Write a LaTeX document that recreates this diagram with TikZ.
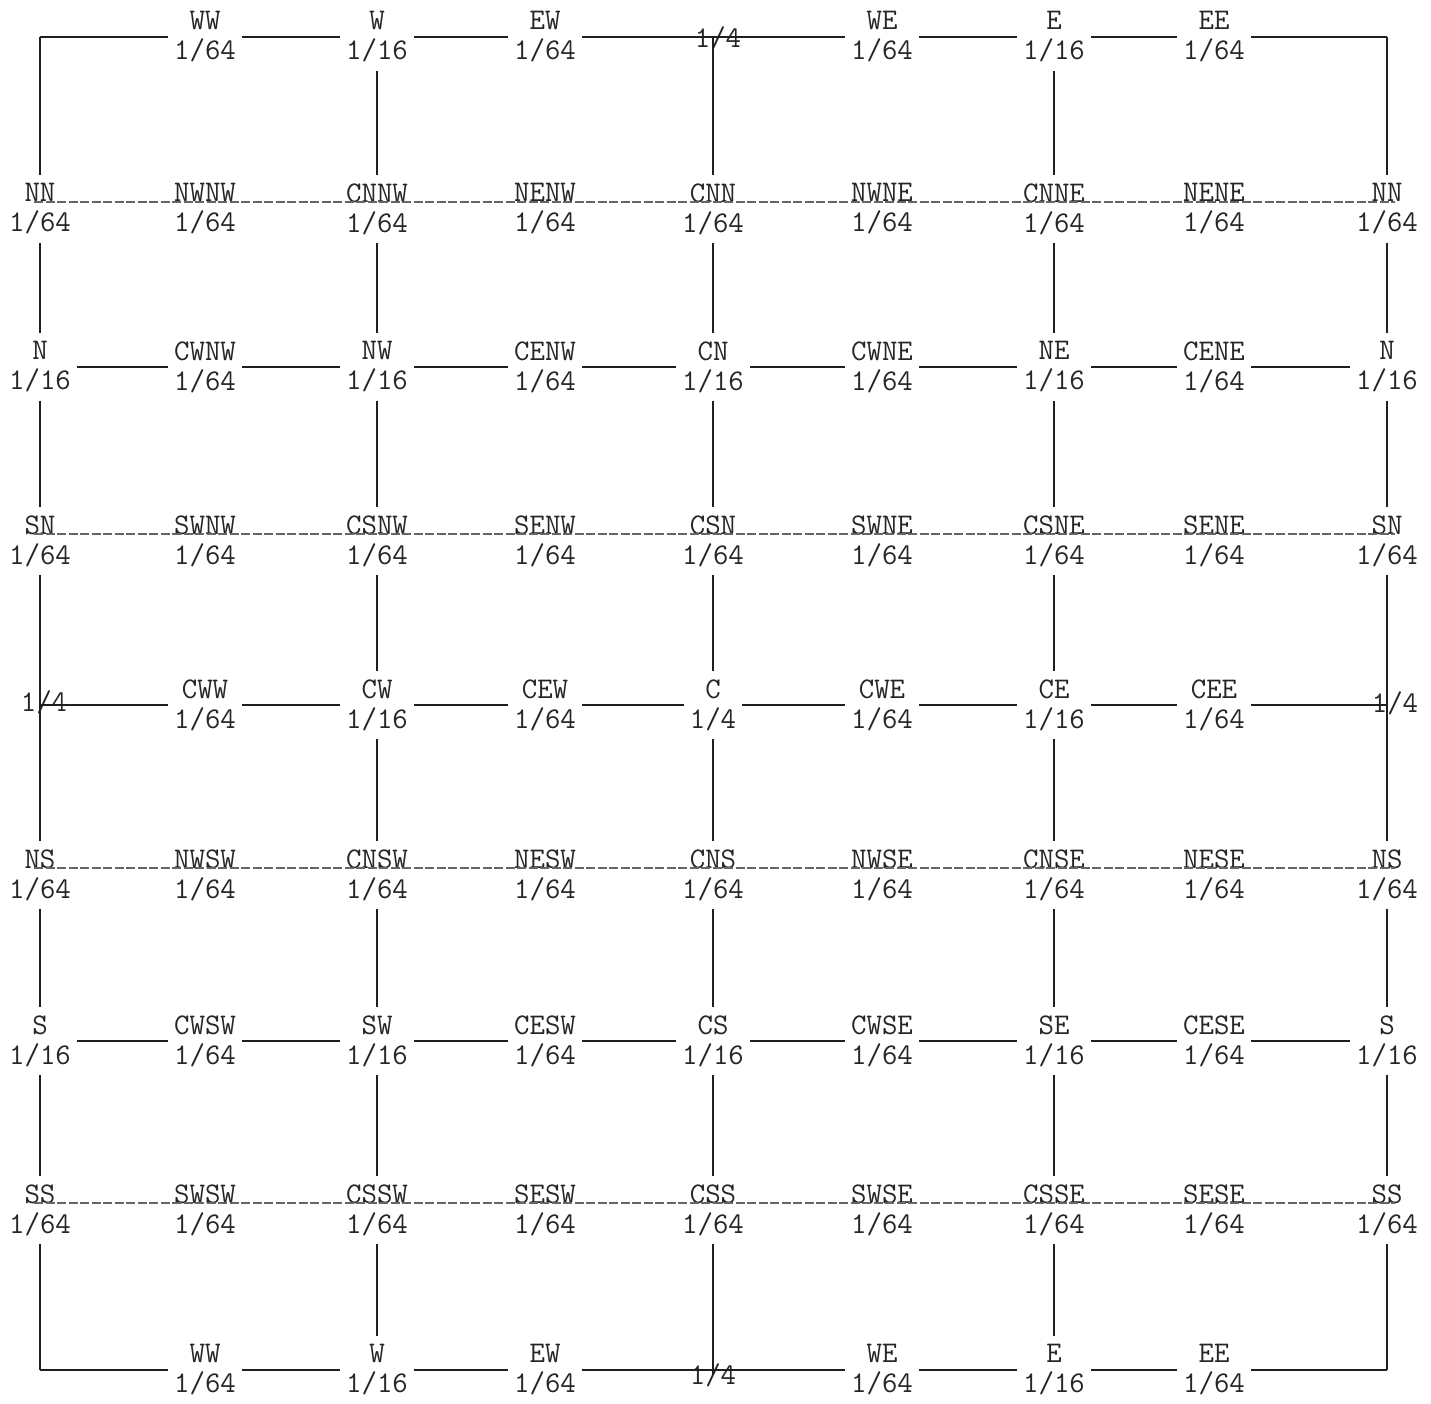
\documentclass[tikz,border=0pt]{standalone}
\usepackage{fontspec}
\usetikzlibrary{calc}
\begin{document}
\begin{tikzpicture}[x=1pt,y=-1pt,
  lab/.style={align=center,font=\fontsize{30}{30}\selectfont\ttfamily\addfontfeatures{FakeBold=1.6},inner xsep=6pt,inner ysep=8pt,text=black!85},
  quarter/.style={font=\fontsize{30}{30}\selectfont\ttfamily\addfontfeatures{FakeBold=1.6},inner sep=0pt,text=black!85},
  solidline/.style={line width=2.6pt,black!88},
  typedline/.style={line width=1.3pt,black!60,dash pattern=on 9pt off 2.5pt},
]
\useasboundingbox (0,0) rectangle (1431,1404);
\fill[white] (0,0) rectangle (1431,1404);
\def\colxs{{40,205,377,545,713,882,1054,1214,1387}}
% corners
\coordinate (cTL) at (40,37);
\coordinate (cTR) at (1387,37);
\coordinate (cBL) at (40,1370);
\coordinate (cBR) at (1387,1370);
% row 0 (top)
\foreach \n/\f/\c in {WW/64/1,W/16/2,EW/64/3,WE/64/5,E/16/6,EE/64/7}{
  \pgfmathsetmacro\xx{\colxs[\c]}
  \node[lab] (n-0-\c) at (\xx,37) {\n\\1/\f};
}
\node[quarter] (n-0-4) at (718,38) {1/4};
% row 1
\foreach \n [count=\i from 0] in {NN,NWNW,CNNW,NENW,CNN,NWNE,CNNE,NENE,NN}{
  \pgfmathsetmacro\xx{\colxs[\i]}
  \node[lab] (n-1-\i) at (\xx,209) {\n\\1/64};
}
% row 2
\foreach \n/\f [count=\i from 0] in {N/16,CWNW/64,NW/16,CENW/64,CN/16,CWNE/64,NE/16,CENE/64,N/16}{
  \pgfmathsetmacro\xx{\colxs[\i]}
  \node[lab] (n-2-\i) at (\xx,367) {\n\\1/\f};
}
% row 3
\foreach \n [count=\i from 0] in {SN,SWNW,CSNW,SENW,CSN,SWNE,CSNE,SENE,SN}{
  \pgfmathsetmacro\xx{\colxs[\i]}
  \node[lab] (n-3-\i) at (\xx,541) {\n\\1/64};
}
% row 4
\foreach \n/\f/\c in {CWW/64/1,CW/16/2,CEW/64/3,C/4/4,CWE/64/5,CE/16/6,CEE/64/7}{
  \pgfmathsetmacro\xx{\colxs[\c]}
  \node[lab] (n-4-\c) at (\xx,705) {\n\\1/\f};
}
\node[quarter] (n-4-0) at (44,702) {1/4};
\node[quarter] (n-4-8) at (1395,703) {1/4};
% row 5
\foreach \n [count=\i from 0] in {NS,NWSW,CNSW,NESW,CNS,NWSE,CNSE,NESE,NS}{
  \pgfmathsetmacro\xx{\colxs[\i]}
  \node[lab] (n-5-\i) at (\xx,875) {\n\\1/64};
}
% row 6
\foreach \n/\f [count=\i from 0] in {S/16,CWSW/64,SW/16,CESW/64,CS/16,CWSE/64,SE/16,CESE/64,S/16}{
  \pgfmathsetmacro\xx{\colxs[\i]}
  \node[lab] (n-6-\i) at (\xx,1041) {\n\\1/\f};
}
% row 7
\foreach \n [count=\i from 0] in {SS,SWSW,CSSW,SESW,CSS,SWSE,CSSE,SESE,SS}{
  \pgfmathsetmacro\xx{\colxs[\i]}
  \node[lab] (n-7-\i) at (\xx,1210) {\n\\1/64};
}
% row 8 (bottom)
\foreach \n/\f/\c in {WW/64/1,W/16/2,EW/64/3,WE/64/5,E/16/6,EE/64/7}{
  \pgfmathsetmacro\xx{\colxs[\c]}
  \node[lab] (n-8-\c) at (\xx,1370) {\n\\1/\f};
}
\node[quarter] (n-8-4) at (713,1375) {1/4};

% ---- horizontal solid lines
\draw[solidline] (cTL) -- (n-0-1.west);
\draw[solidline] (n-0-1.east) -- (n-0-2.west);
\draw[solidline] (n-0-2.east) -- (n-0-3.west);
\draw[solidline] (n-0-3.east) -- (n-0-5.west);
\draw[solidline] (n-0-5.east) -- (n-0-6.west);
\draw[solidline] (n-0-6.east) -- (n-0-7.west);
\draw[solidline] (n-0-7.east) -- (cTR);
\draw[solidline] (cBL) -- (n-8-1.west);
\draw[solidline] (n-8-1.east) -- (n-8-2.west);
\draw[solidline] (n-8-2.east) -- (n-8-3.west);
\draw[solidline] (n-8-3.east) -- (n-8-5.west);
\draw[solidline] (n-8-5.east) -- (n-8-6.west);
\draw[solidline] (n-8-6.east) -- (n-8-7.west);
\draw[solidline] (n-8-7.east) -- (cBR);
\foreach \rr in {2,6}{
  \foreach \a in {0,...,7}{
    \pgfmathtruncatemacro\b{\a+1}
    \draw[solidline] (n-\rr-\a.east) -- (n-\rr-\b.west);
  }
}
\draw[solidline] (n-4-1.west -| n-3-0.south) -- (n-4-1.west);
\foreach \a in {1,...,6}{
  \pgfmathtruncatemacro\b{\a+1}
  \draw[solidline] (n-4-\a.east) -- (n-4-\b.west);
}
\draw[solidline] (n-4-7.east) -- (n-4-7.east -| n-3-8.south);
% ---- typed (broken) lines on odd rows
\foreach \rr in {1,3,5,7}{
  \draw[typedline] ([xshift=-6pt,yshift=7pt]n-\rr-0.center) -- ([xshift=8pt,yshift=7pt]n-\rr-8.center);
}
% ---- vertical lines
\draw[solidline] (cTL) -- (n-1-0.north);
\draw[solidline] (n-0-2.south) -- (n-1-2.north);
\draw[solidline] (n-1-4.north |- n-0-4.center) -- (n-1-4.north);
\draw[solidline] (n-0-6.south) -- (n-1-6.north);
\draw[solidline] (cTR) -- (n-1-8.north);
\foreach \cc in {0,2,4,6,8}{
  \foreach \k in {1,2,5,6}{
    \pgfmathtruncatemacro\kk{\k+1}
    \draw[solidline] (n-\k-\cc.south) -- (n-\kk-\cc.north);
  }
}
\foreach \cc in {2,4,6}{
  \draw[solidline] (n-3-\cc.south) -- (n-4-\cc.north);
  \draw[solidline] (n-4-\cc.south) -- (n-5-\cc.north);
}
\draw[solidline] (n-3-0.south) -- (n-5-0.north);
\draw[solidline] (n-3-8.south) -- (n-5-8.north);
\draw[solidline] (n-7-0.south) -- (cBL);
\draw[solidline] (n-7-2.south) -- (n-8-2.north);
\draw[solidline] (n-7-4.south) -- (n-7-4.south |- n-8-4.center);
\draw[solidline] (n-7-6.south) -- (n-8-6.north);
\draw[solidline] (n-7-8.south) -- (cBR);
\end{tikzpicture}
\end{document}
